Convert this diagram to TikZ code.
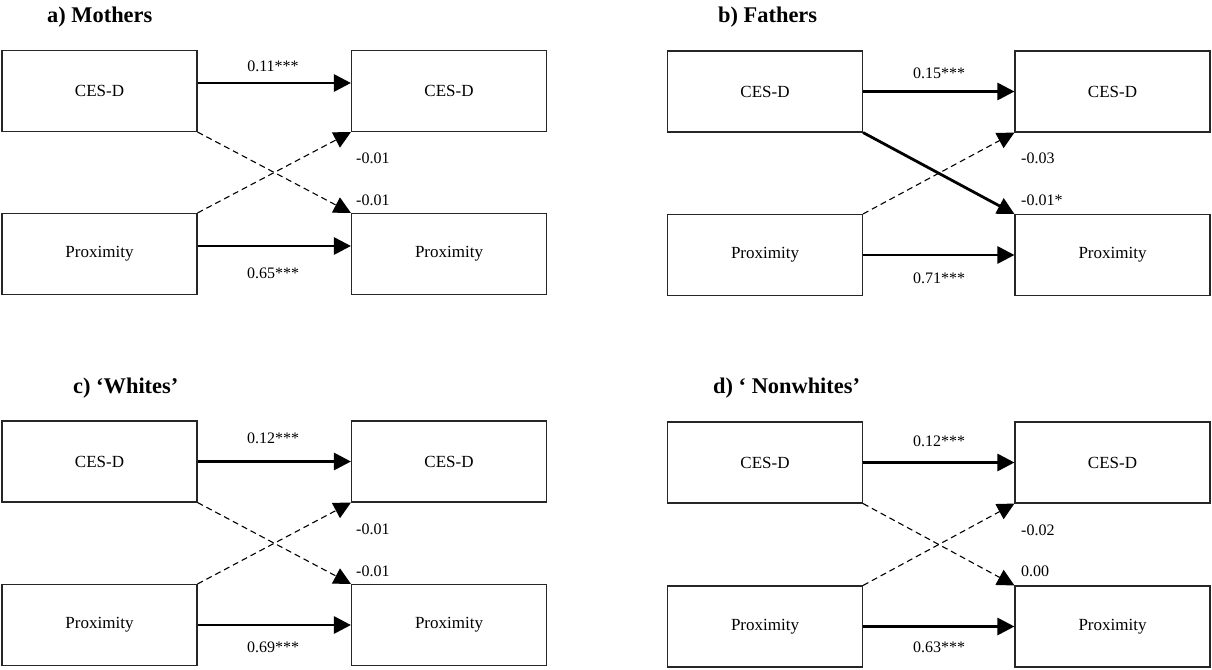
\documentclass[tikz,border=0pt]{standalone}
\usepackage{fontspec}
\setmainfont{Liberation Serif}
\usetikzlibrary{arrows.meta}
\begin{document}
\begin{tikzpicture}[x=1pt,y=-1pt,
  box/.style={draw=black!85, line width=1.1pt, minimum width=195pt, minimum height=81pt,
    inner sep=0pt, font=\fontsize{17}{20}\selectfont},
  strong/.style={line width=2.8pt, -{Triangle[length=17pt,width=17pt]}},
  weak/.style={line width=1.1pt, dash pattern=on 6pt off 4pt, -{Triangle[length=17pt,width=17pt]}},
  coef/.style={font=\fontsize{16}{19}\selectfont, inner sep=0pt},
  ttl/.style={font=\fontsize{22.4}{26}\selectfont\bfseries, inner sep=0pt, anchor=base west}]
\useasboundingbox (0,0) rectangle (1212,669);

% ---------- a) Mothers ----------
\node[ttl] (ta) at (47,23) {a) Mothers};
\node[box] (a1) at (99.5,91) {CES-D};
\node[box] (a2) at (449,91) {CES-D};
\node[box] (a3) at (99.5,254) {Proximity};
\node[box] (a4) at (449,254) {Proximity};
\draw[strong] ([yshift=8pt]a1.east) -- ([yshift=8pt]a2.west);
\draw[strong] ([yshift=8pt]a3.east) -- ([yshift=8pt]a4.west);
\draw[weak] (a1.south east) -- (a4.north west);
\draw[weak] (a3.north east) -- (a2.south west);
\node[coef, anchor=base] (la1) at (273,71) {0.11***};
\node[coef, anchor=base] (la2) at (273,278) {0.65***};
\node[coef, anchor=base west] (la3) at (356,163) {-0.01};
\node[coef, anchor=base west] (la4) at (356,205) {-0.01};

% ---------- b) Fathers ----------
\node[ttl] (tb) at (718,23) {b) Fathers};
\node[box] (b1) at (765,91.5) {CES-D};
\node[box] (b2) at (1112.5,91.5) {CES-D};
\node[box] (b3) at (765,255) {Proximity};
\node[box] (b4) at (1112.5,255) {Proximity};
\draw[strong] (b1.east) -- (b2.west);
\draw[strong] (b3.east) -- (b4.west);
\draw[strong] (b1.south east) -- (b4.north west);
\draw[weak] (b3.north east) -- (b2.south west);
\node[coef, anchor=base] (lb1) at (939,78) {0.15***};
\node[coef, anchor=base] (lb2) at (939,283) {0.71***};
\node[coef, anchor=base west] (lb3) at (1021,163) {-0.03};
\node[coef, anchor=base west] (lb4) at (1021,205) {-0.01*};

% ---------- c) Whites ----------
\node[ttl] (tc) at (73,393) {c) ‘Whites’};
\node[box] (c1) at (99.5,461.5) {CES-D};
\node[box] (c2) at (449,461.5) {CES-D};
\node[box] (c3) at (99.5,625) {Proximity};
\node[box] (c4) at (449,625) {Proximity};
\draw[strong] (c1.east) -- (c2.west);
\draw[strong] (c3.east) -- (c4.west);
\draw[weak] (c1.south east) -- (c4.north west);
\draw[weak] (c3.north east) -- (c2.south west);
\node[coef, anchor=base] (lc1) at (273,443) {0.12***};
\node[coef, anchor=base] (lc2) at (273,652) {0.69***};
\node[coef, anchor=base west] (lc3) at (356,534) {-0.01};
\node[coef, anchor=base west] (lc4) at (356,576) {-0.01};

% ---------- d) Nonwhites ----------
\node[ttl] (td) at (713,393) {d) ‘ Nonwhites’};
\node[box] (d1) at (765,462.5) {CES-D};
\node[box] (d2) at (1112.5,462.5) {CES-D};
\node[box] (d3) at (765,626.5) {Proximity};
\node[box] (d4) at (1112.5,626.5) {Proximity};
\draw[strong] (d1.east) -- (d2.west);
\draw[strong] (d3.east) -- (d4.west);
\draw[weak] (d1.south east) -- (d4.north west);
\draw[weak] (d3.north east) -- (d2.south west);
\node[coef, anchor=base] (ld1) at (939,446) {0.12***};
\node[coef, anchor=base] (ld2) at (939,652) {0.63***};
\node[coef, anchor=base west] (ld3) at (1021,535) {-0.02};
\node[coef, anchor=base west] (ld4) at (1021,576) {0.00};
\end{tikzpicture}
\end{document}
